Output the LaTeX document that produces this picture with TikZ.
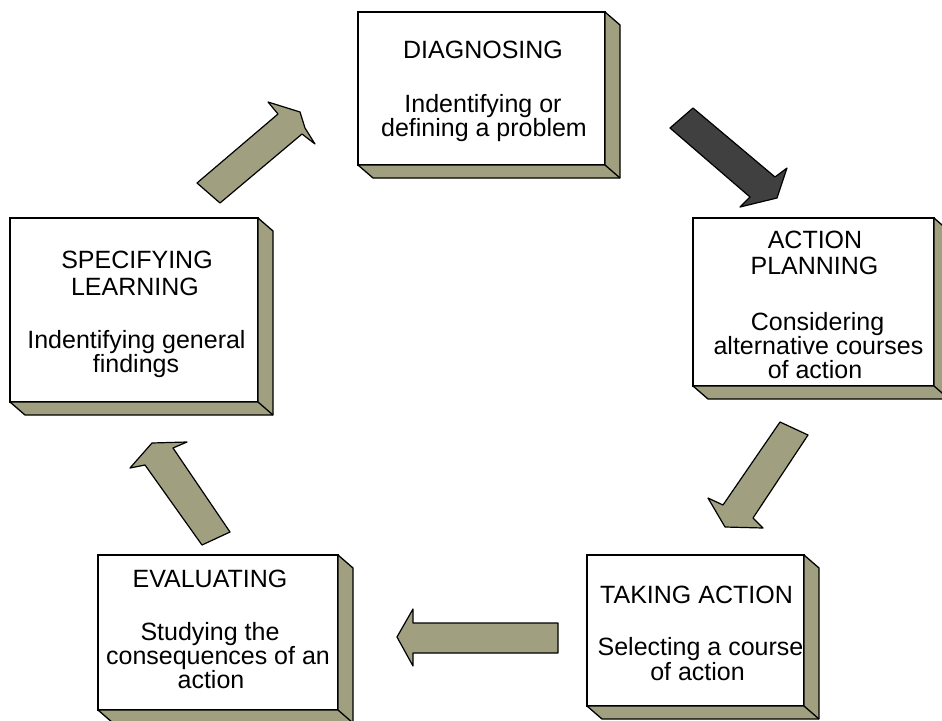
\documentclass[tikz,border=0pt]{standalone}
\usepackage{fontspec}
\setmainfont{Liberation Sans}
\usetikzlibrary{calc}
\definecolor{khaki}{RGB}{160,160,128}
\definecolor{darkarrow}{RGB}{64,64,64}
\tikzset{
  face/.style={draw=black, line width=1.3pt, fill=white, inner sep=0pt, outer sep=0pt},
  side/.style={draw=black, line width=1.3pt, fill=khaki, line join=round},
  blockarrow/.style={draw=black, line width=1.2pt, fill=khaki, line join=round},
  darkblock/.style={blockarrow, fill=darkarrow},
  lbl/.style={anchor=base, inner sep=0pt, font=\fontsize{25}{25}\selectfont},
}
\newcommand{\boxside}[1]{%
  \draw[side] (#1.north east) -- ++(15,13) -- ($(#1.south east)+(15,13)$)
     -- ($(#1.south west)+(15,13)$) -- (#1.south west) -- (#1.south east) -- cycle;
  \draw[side] (#1.south east) -- ++(15,13);
}
\begin{document}
\begin{tikzpicture}[x=1pt, y=-1pt]
\useasboundingbox (0,0) rectangle (942,720);
\fill[white] (0,0) rectangle (942,720);
\clip (0,0) rectangle (942,720);

% boxes
\node[face, minimum width=247pt, minimum height=153pt] (dg) at (481.5,88.5) {};
\boxside{dg}
\node[face, minimum width=241pt, minimum height=168pt] (ap) at (813.5,302) {};
\boxside{ap}
\node[face, minimum width=248pt, minimum height=184pt] (sl) at (134,310) {};
\boxside{sl}
\node[face, minimum width=240pt, minimum height=155pt] (ev) at (218,632.5) {};
\boxside{ev}
\node[face, minimum width=217pt, minimum height=151pt] (ta) at (695.5,630.5) {};
\boxside{ta}

% texts
\node[lbl] (dgt) at (483,58) {DIAGNOSING};
\node[lbl] (dg1) at (483,112) {Indentifying or};
\node[lbl] (dg2) at (484,136) {defining a problem};

\node[lbl] (apt1) at (815,248) {ACTION};
\node[lbl] (apt2) at (814.5,274) {PLANNING};
\node[lbl] (ap1) at (817.5,330) {Considering};
\node[lbl] (ap2) at (818.5,354) {alternative courses};
\node[lbl] (ap3) at (815,378) {of action};

\node[lbl] (slt1) at (137,268) {SPECIFYING};
\node[lbl] (slt2) at (135,295) {LEARNING};
\node[lbl] (sl1) at (136.5,348) {Indentifying general};
\node[lbl] (sl2) at (136,372) {findings};

\node[lbl] (evt) at (210,587) {EVALUATING};
\node[lbl] (ev1) at (210,640) {Studying the};
\node[lbl] (ev2) at (218,664) {consequences of an};
\node[lbl] (ev3) at (211,688) {action};

\node[lbl] (tat) at (696.5,603) {TAKING ACTION};
\node[lbl] (ta1) at (700.5,655) {Selecting a course};
\node[lbl] (ta2) at (697.5,680) {of action};

% block arrows
\draw[darkblock] (693,108) -- (775,177) -- (787,168) -- (777,198) -- (740,207)
  -- (750,197) -- (670,128) -- cycle;
\draw[blockarrow] (780,422) -- (808,435) -- (753,518) -- (763,528) -- (725,527)
  -- (708,498) -- (723,505) -- cycle;
\draw[blockarrow] (558,623) -- (413,623) -- (413,609) -- (397,637) -- (413,666)
  -- (413,653) -- (558,653) -- cycle;
\draw[blockarrow] (230,532) -- (202,545) -- (145,465) -- (130,468) -- (152,443)
  -- (187,442) -- (173,448) -- cycle;
\draw[blockarrow] (197,183) -- (278,114) -- (268,102) -- (300,112) -- (305,128)
  -- (315,144) -- (302,134) -- (220,203) -- cycle;
\end{tikzpicture}
\end{document}
